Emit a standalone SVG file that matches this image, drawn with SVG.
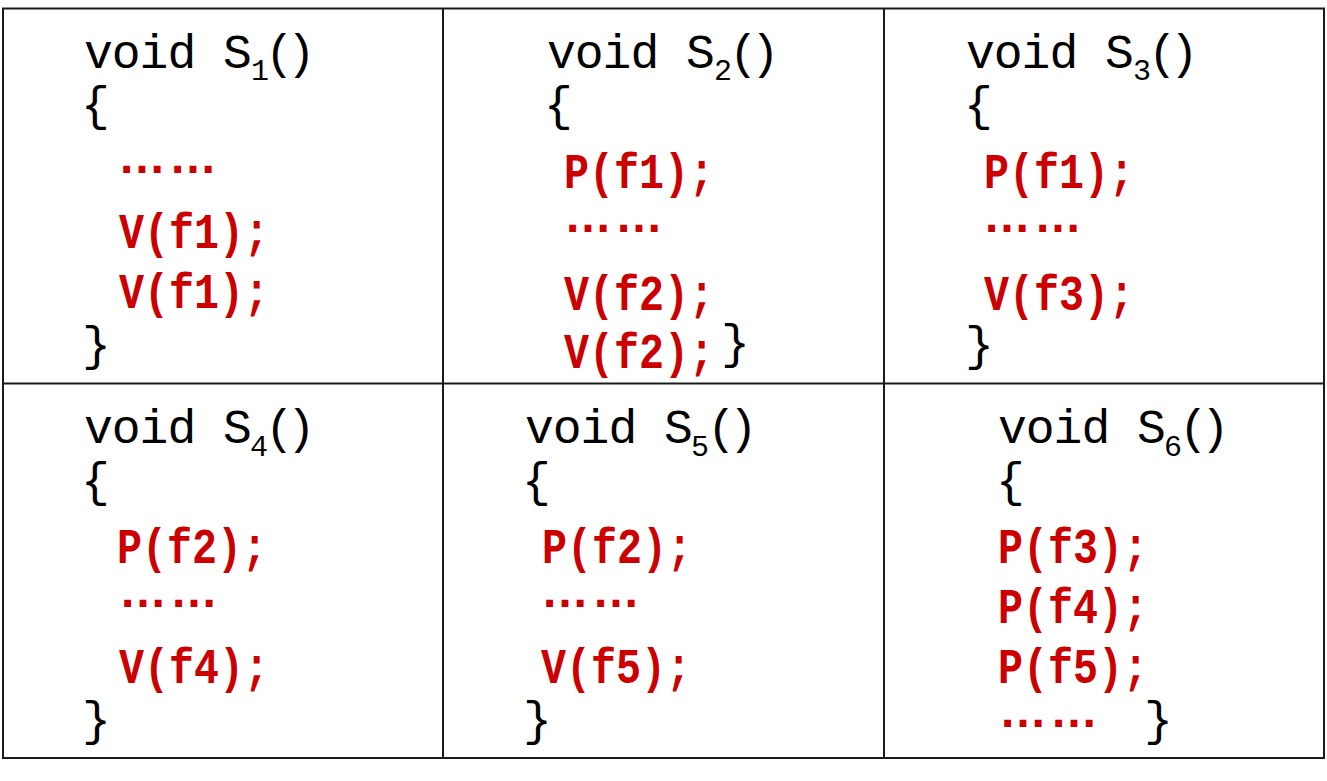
<svg xmlns="http://www.w3.org/2000/svg" width="1327" height="781" viewBox="0 0 1327 781">
<style>
.k{font-family:"Liberation Mono",monospace;font-size:48px;fill:#000}
.h{letter-spacing:-1px}
.sub{font-size:30px;letter-spacing:0}
.p{letter-spacing:-7px}
.r{font-family:"Liberation Mono",monospace;font-weight:bold;font-size:50px;fill:#cc0000}
.d{font-family:"Liberation Sans",sans-serif;font-weight:bold;font-size:48px;letter-spacing:3px;fill:#cc0000}
.grid{stroke:#1a1a1a;stroke-width:2;fill:none}
</style>
<rect width="1327" height="781" fill="#fff"/>
<g id="table">
<rect class="grid" x="3" y="8.5" width="1321" height="749.5"/>
<line class="grid" x1="3" y1="383.5" x2="1324" y2="383.5"/>
<line class="grid" x1="443" y1="8.5" x2="443" y2="758"/>
<line class="grid" x1="884" y1="8.5" x2="884" y2="758"/>
</g>
<g id="s1">
<text class="k h" x="84" y="68">void S<tspan class="sub" x="251" dy="12">1</tspan><tspan class="p" x="265" dy="-12">()</tspan></text>
<text class="k" x="81" y="120">{</text>
<text class="d" x="118" y="173">……</text>
<text class="r" x="119" y="248" textLength="150" lengthAdjust="spacingAndGlyphs">V(f1);</text>
<text class="r" x="119" y="308" textLength="150" lengthAdjust="spacingAndGlyphs">V(f1);</text>
<text class="k" x="82" y="360">}</text>
</g>
<g id="s2">
<text class="k h" x="547" y="68">void S<tspan class="sub" x="714" dy="12">2</tspan><tspan class="p" x="729" dy="-12">()</tspan></text>
<text class="k" x="544" y="120">{</text>
<text class="r" x="564" y="188" textLength="150" lengthAdjust="spacingAndGlyphs">P(f1);</text>
<text class="d" x="564" y="232">……</text>
<text class="r" x="564" y="310" textLength="150" lengthAdjust="spacingAndGlyphs">V(f2);</text>
<text class="r" x="564" y="368" textLength="150" lengthAdjust="spacingAndGlyphs">V(f2);</text>
<text class="k" x="721" y="358">}</text>
</g>
<g id="s3">
<text class="k h" x="966" y="68">void S<tspan class="sub" x="1133" dy="12">3</tspan><tspan class="p" x="1148" dy="-12">()</tspan></text>
<text class="k" x="964" y="120">{</text>
<text class="r" x="984" y="188" textLength="150" lengthAdjust="spacingAndGlyphs">P(f1);</text>
<text class="d" x="983" y="232">……</text>
<text class="r" x="984" y="310" textLength="150" lengthAdjust="spacingAndGlyphs">V(f3);</text>
<text class="k" x="965" y="360">}</text>
</g>
<g id="s4">
<text class="k h" x="84" y="443">void S<tspan class="sub" x="250" dy="13">4</tspan><tspan class="p" x="265" dy="-13">()</tspan></text>
<text class="k" x="81" y="496">{</text>
<text class="r" x="117" y="563" textLength="150" lengthAdjust="spacingAndGlyphs">P(f2);</text>
<text class="d" x="119" y="607">……</text>
<text class="r" x="119" y="683" textLength="150" lengthAdjust="spacingAndGlyphs">V(f4);</text>
<text class="k" x="82" y="735">}</text>
</g>
<g id="s5">
<text class="k h" x="525" y="443">void S<tspan class="sub" x="691" dy="13">5</tspan><tspan class="p" x="707" dy="-13">()</tspan></text>
<text class="k" x="522" y="496">{</text>
<text class="r" x="542" y="563" textLength="150" lengthAdjust="spacingAndGlyphs">P(f2);</text>
<text class="d" x="541" y="607">……</text>
<text class="r" x="541" y="683" textLength="150" lengthAdjust="spacingAndGlyphs">V(f5);</text>
<text class="k" x="523" y="735">}</text>
</g>
<g id="s6">
<text class="k h" x="998" y="443">void S<tspan class="sub" x="1164" dy="13">6</tspan><tspan class="p" x="1179" dy="-13">()</tspan></text>
<text class="k" x="996" y="496">{</text>
<text class="r" x="998" y="563" textLength="150" lengthAdjust="spacingAndGlyphs">P(f3);</text>
<text class="r" x="998" y="623" textLength="150" lengthAdjust="spacingAndGlyphs">P(f4);</text>
<text class="r" x="998" y="683" textLength="150" lengthAdjust="spacingAndGlyphs">P(f5);</text>
<text class="d" x="999" y="727">……</text>
<text class="k" x="1144" y="735">}</text>
</g>
</svg>
